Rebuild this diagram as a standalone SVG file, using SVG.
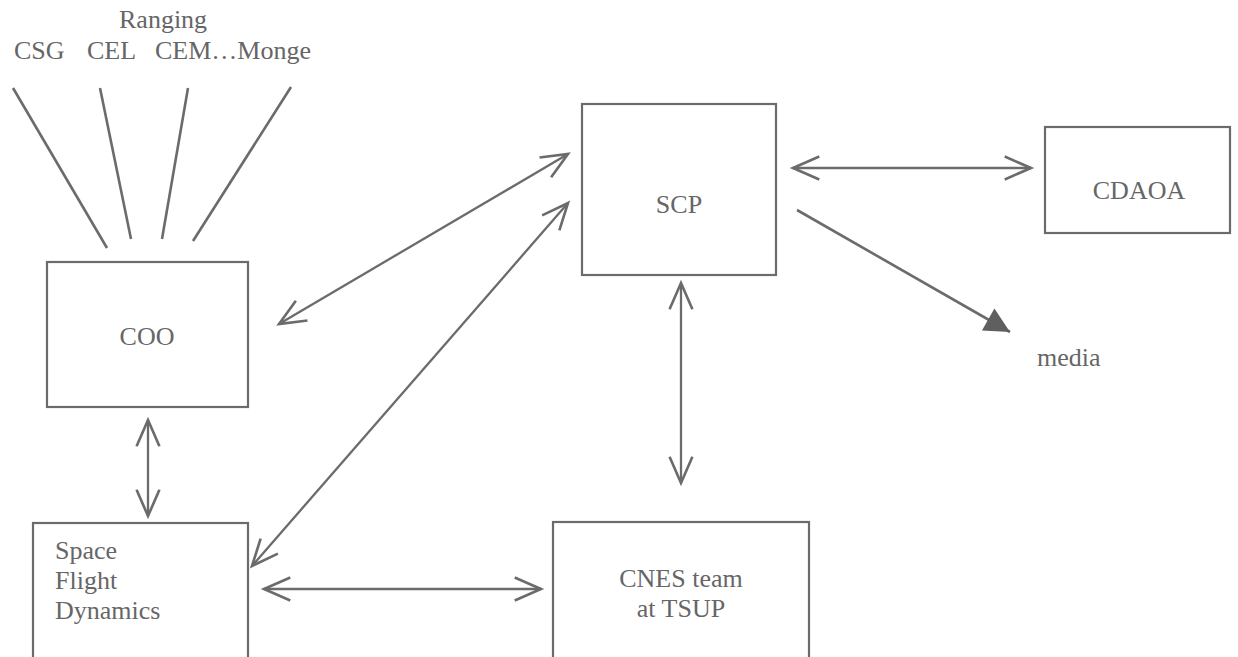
<svg xmlns="http://www.w3.org/2000/svg" width="1238" height="657" viewBox="0 0 1238 657" font-family="'Liberation Serif', 'Times New Roman', Times, 'DejaVu Serif', serif">
<style>
.box{fill:none;stroke:#6b6b6b;stroke-width:2.2}
.ln{fill:none;stroke:#6b6b6b;stroke-width:2.6}
.arr{fill:none;stroke:#6b6b6b;stroke-width:2.3;marker-start:url(#oa);marker-end:url(#oa)}
.t{font-family:'Liberation Serif','Times New Roman',Times,'DejaVu Serif',serif;font-size:26px;fill:#666}
.c{text-anchor:middle}
</style>
<defs>
<marker id="oa" markerUnits="userSpaceOnUse" markerWidth="40" markerHeight="40" viewBox="-30 -15 35 30" refX="0" refY="0" orient="auto-start-reverse">
<path d="M-23,-10 L0,0 L-23,10" fill="none" stroke="#6b6b6b" stroke-width="2.3"/>
</marker>
<marker id="fa" markerUnits="userSpaceOnUse" markerWidth="40" markerHeight="40" viewBox="-30 -15 35 30" refX="0" refY="0" orient="auto">
<path d="M-22,-11 L0,0 L-22,11 Z" fill="#5f5f5f"/>
</marker>
</defs>
<g id="labels-top">
<text class="t" x="119" y="28">Ranging</text>
<text class="t" x="14" y="59">CSG</text>
<text class="t" x="87" y="59">CEL</text>
<text class="t" x="155" y="59">CEM…Monge</text>
</g>
<g id="COO"><rect class="box" x="47" y="262" width="201" height="145"/><text class="t c" x="147" y="345">COO</text></g>
<g id="SCP"><rect class="box" x="582" y="104" width="194" height="171"/><text class="t c" x="679" y="213">SCP</text></g>
<g id="CDAOA"><rect class="box" x="1045" y="127" width="185" height="106"/><text class="t c" x="1139" y="199">CDAOA</text></g>
<g id="SFD"><rect class="box" x="33" y="523" width="215" height="150"/><text class="t" x="55" y="559">Space</text><text class="t" x="55" y="589">Flight</text><text class="t" x="55" y="619">Dynamics</text></g>
<g id="CNES"><rect class="box" x="553" y="522" width="256" height="150"/><text class="t c" x="681" y="587">CNES team</text><text class="t c" x="681" y="617">at TSUP</text></g>
<g id="media"><text class="t" x="1037" y="366">media</text></g>
<g id="connectors">
<line class="ln" x1="13" y1="88" x2="107" y2="248"/>
<line class="ln" x1="100" y1="88" x2="131" y2="239"/>
<line class="ln" x1="188" y1="88" x2="162" y2="239"/>
<line class="ln" x1="291" y1="87" x2="193" y2="241"/>
<line class="arr" x1="279" y1="324" x2="568" y2="154"/>
<line class="arr" x1="252" y1="566" x2="568" y2="203"/>
<line class="arr" x1="148" y1="420" x2="148" y2="516"/>
<line class="arr" x1="264" y1="589" x2="541" y2="589"/>
<line class="arr" x1="681" y1="283" x2="681" y2="483"/>
<line class="arr" x1="793" y1="168" x2="1031" y2="168"/>
<line class="ln" x1="797" y1="210" x2="1010" y2="332" marker-end="url(#fa)"/>
</g>
</svg>
